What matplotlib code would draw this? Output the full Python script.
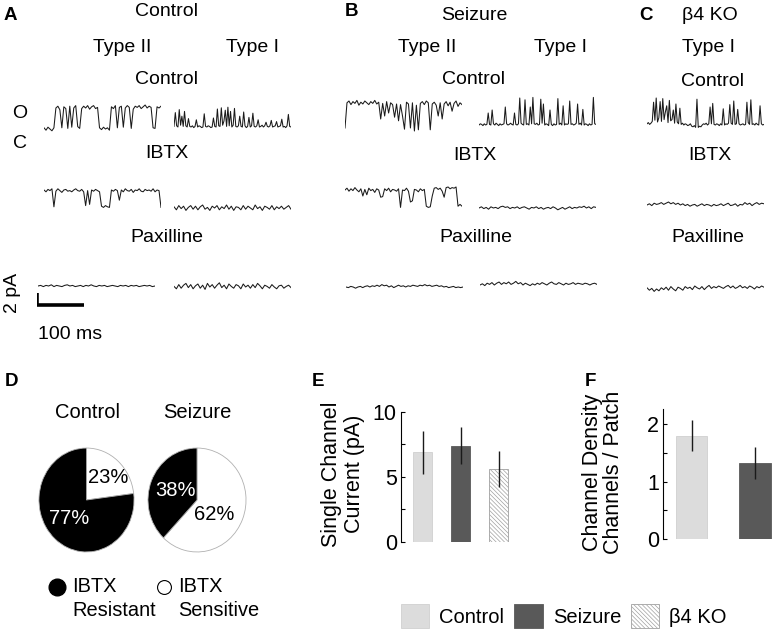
# single channel traces (A-C), IBTX sensitivity pies (D) and bar summaries (E, F)

import numpy as np
import matplotlib
matplotlib.use("Agg")
import matplotlib.pyplot as plt
from matplotlib.lines import Line2D
from matplotlib.patches import Patch
from matplotlib.legend_handler import HandlerLine2D

plt.rcParams['font.family'] = ['Liberation Sans', 'DejaVu Sans']
plt.rcParams['hatch.linewidth'] = 0.5

# ---- data ----
# current traces in pA (closed level = 0), each 250 ms long
trace_ms = 250
scale_ms = 100
scale_pa = 2

A_ctrl_II = [0.2, -0.2, 0.3, 0.0, -0.3, 0.2,
             3.5, 3.8, 3.2, 0.2, 3.7, 3.4, 0.1, 3.8, 0.3, 3.5, 3.9,
             0.4, 0.1,
             3.4, 3.8, 3.5, 3.9, 3.3, 3.7, 3.9, 3.4, 3.6,
             0.2, -0.1, 0.3, 0.0, 0.2, -0.2,
             3.7, 3.4, 3.9, 0.2, 3.6, 3.8, 0.3, 3.5, 3.9, 3.6, 0.1, 3.3, 3.8,
             3.6, 3.9, 3.4, 3.7, 4.0, 3.5, 3.8, 3.6,
             0.2, 0.1,
             3.7, 3.5, 3.8]
A_ctrl_I = [0.1, 2.4, 0.2, 0.0, 2.9, 0.3, 1.8, 0.1, 2.6, 0.2, 0.0, 1.4, 0.1,
            0.0, 0.2, -0.1, 0.1, 1.2, 0.0, 0.2, 0.1, -0.1, 0.0, 2.2, 0.1, 0.0,
            0.2, 0.1, -0.1, 0.0, 1.5, 0.1, 0.0,
            3.0, 0.2, 0.1, 3.2, 0.3, 1.0, 2.8, 0.1, 3.3, 0.2, 2.6, 0.0, 0.3, 3.1, 0.1,
            0.0, 0.2, 1.8, 0.1, 0.0, 2.5, 0.2, -0.1, 0.1, 1.6, 0.0, 0.2, 2.3, 0.1,
            0.0, 0.2, 1.2, 0.0, 0.1, 0.3, 0.0, 0.2,
            0.8, 0.1, 0.0, 0.2, 1.1, 0.0, 0.1, 0.2, 0.9, 0.0, 0.1, 0.2, 1.3, 0.0,
            0.1, -0.1, 0.2, 2.1, 0.1, 0.0]
A_ibtx_II = [3.0, 2.7, 3.1, 2.9, 3.2, 0.2, 2.8, 3.2, 2.9, 2.6, 3.0, 3.1, 2.8, 2.9,
             2.7, 3.0, 3.2, 2.9, 2.8, 3.1, 2.7, 0.4, 2.9, 0.6, 3.0, 2.8, 3.1, 2.9,
             2.7, 0.3, 0.1, 0.4, 0.2, 0.1, 3.0, 2.8, 3.1, 2.9, 1.3, 3.0, 2.7, 3.2,
             2.9, 2.8, 3.1, 2.6, 3.0, 2.9, 3.2, 2.8, 2.7, 3.1, 2.9, 3.0, 2.8, 3.2,
             2.7, 3.0, 2.9, 0.1]
A_ibtx_I = [0.2, -0.3, 0.4, -0.1, 0.3, -0.4, 0.1, 0.4, -0.2, 0.3, -0.3, 0.2, 0.5,
            -0.2, 0.1, -0.4, 0.3, 0.0, 0.4, -0.3, 0.2, -0.1, 0.5, -0.2, 0.3, -0.4,
            0.2, 0.1, -0.3, 0.4, -0.2, 0.3, 0.0, -0.3, 0.5, -0.1, 0.2, -0.4, 0.3,
            0.1, -0.2, 0.4, -0.3, 0.2, -0.1, 0.3, -0.2, 0.1, 0.4, -0.2]
A_pax_II = [0.0, 0.1, -0.1, 0.1, 0.0, 0.2, -0.1, 0.1, 0.0, -0.1, 0.1, 0.2, 0.0,
            0.1, -0.1, 0.0, 0.1, -0.1, 0.1, 0.0, 0.2, 0.0, -0.1, 0.1, 0.0, 0.1,
            -0.1, 0.0, 0.1, 0.0, -0.1, 0.1, 0.0, 0.1, -0.1, 0.1, 0.0, 0.1, -0.1,
            0.0, 0.1, 0.0, 0.1, -0.1, 0.0]
A_pax_I = [0.1, -0.3, 0.4, -0.2, 0.3, 0.6, -0.1, 0.4, -0.3, 0.2, 0.5, -0.2, 0.3,
           -0.4, 0.6, 0.0, 0.4, -0.2, 0.3, 0.7, -0.1, 0.3, -0.3, 0.5, 0.1, -0.2,
           0.4, 0.2, -0.3, 0.5, 0.0, 0.3, -0.2, 0.4, -0.1, 0.6, 0.2, -0.3, 0.3,
           0.1, -0.2, 0.4, 0.0, -0.3, 0.2, 0.3, -0.2, 0.1, 0.3, -0.1]

B_ctrl_II = [0.0, 4.2, 4.5, 3.9, 4.4, 4.1, 4.6, 3.8, 4.3, 4.0, 4.5, 4.2, 3.9, 4.4,
             4.1, 4.6, 4.0, 4.3, 1.5, 4.1, 2.0, 4.4, 2.5, 4.2, 3.9, 1.8, 4.0, 1.2,
             3.9, 2.0, -0.2, 4.3, 4.0, 0.0, 4.2, -0.5, 3.8, -0.3, 4.1, 4.4, 3.9,
             4.5, 4.2, -0.3, 4.0, 4.3, 3.8, 2.0, 4.2, 1.5, 4.0, 4.4, 3.7, 4.3, 2.8,
             4.1, 4.5, 3.6, 4.2, 3.9]
B_ctrl_I = [0.0, 0.2, 0.1, -0.1, 0.2, 0.0, 0.1, 2.0, 0.1, 0.0, 2.5, 0.2,
            0.0, 0.3, 0.1, -0.1, 0.2, 0.0, 0.1, 0.2, 3.0, 0.2, 0.0, 0.1, 0.3, 0.1,
            0.0, 2.0, 0.1, 0.0, 0.2, 4.5, 0.3, 0.1, 0.0, 4.2, 0.1, 0.2, 0.0, 3.0,
            0.2, 4.6, 0.2, 0.1, 0.3, 0.0, 0.1, 4.3, 0.3, 3.5, 0.0, 0.2, 0.1, -0.1,
            2.5, 0.1, -0.1, 0.2, 0.0, 0.1, 4.4, 0.1, 0.3, 0.0, 3.2, 0.0, 0.2, 0.1,
            0.2, 4.0, 0.1, 0.2, 0.0, 0.1, 0.3, 3.5, 0.1, 0.3, 0.0, 2.6, 0.0, 0.2,
            0.1, -0.1, 0.2, 0.0, 0.1, 4.6, 0.2, 0.1]
B_ibtx_II = [3.0, 3.3, 2.8, 3.2, 2.9, 3.4, 3.0, 2.7, 3.2, 2.0, 3.1, 2.2, 3.3, 2.9,
             3.1, 2.6, 3.2, 3.0, 1.8, 1.9, 3.2, 2.9, 3.3, 2.7, 3.1, 3.0, 2.8, 3.2,
             0.1, 3.0, 2.9, 3.3, 2.8, 1.0, 1.2, 3.1, 3.0, 2.7, 3.2, 2.9, 3.1, 0.3,
             0.1, 0.2, 2.0, 3.3, 3.4, 3.1, 3.3, 2.8, 1.8, 3.4, 3.5, 3.2, 3.4, 3.3,
             3.5, 0.3, 0.6, 0.3]
B_ibtx_I = [0.0, 0.2, -0.1, 0.1, -0.2, 0.2, 0.0, 0.1, -0.1, 0.2, 0.3, 0.1, 0.2,
            -0.1, 0.1, 0.0, 0.2, -0.1, 0.1, 0.2, 0.0, -0.2, 0.1, 0.0, 0.2, -0.1,
            0.1, -0.2, 0.0, 0.1, -0.1, 0.2, 0.0, -0.3, -0.1, 0.1, -0.2, 0.0, 0.2,
            -0.1, 0.1, 0.0, 0.2, 0.1, 0.3, 0.0, 0.2, -0.1, 0.2, 0.1]
B_pax_II = [0.0, -0.1, 0.1, 0.0, -0.2, 0.0, 0.1, -0.1, 0.1, 0.2, 0.0, 0.2, 0.1,
            0.3, 0.1, 0.4, 0.2, 0.3, 0.0, 0.2, -0.1, 0.1, 0.3, 0.1, 0.2, 0.0, 0.2,
            0.1, 0.3, 0.2, 0.1, 0.3, 0.2, 0.4, 0.2, 0.3, 0.1, 0.2, 0.3, 0.1, 0.2,
            0.0, 0.1, -0.1, 0.0, 0.1, -0.1, 0.0, -0.1, 0.0]
B_pax_I = [0.0, 0.2, -0.1, 0.3, 0.1, 0.4, 0.0, 0.3, 0.5, 0.1, 0.4, 0.2, 0.5, 0.1,
           0.3, 0.6, 0.2, 0.4, 0.0, 0.3, 0.1, -0.1, 0.2, 0.0, 0.3, 0.1, 0.4, 0.2,
           0.0, 0.3, 0.5, 0.2, 0.1, 0.4, 0.2, 0.0, 0.3, 0.1, 0.2, 0.4, 0.1, 0.3,
           0.2, 0.1, 0.3, 0.2, 0.0, 0.2, 0.3, 0.1]

C_ctrl = [0.2, 0.4, 0.1, 0.3, 0.6,
          3.8, 0.8, 4.5, 0.5, 1.2, 3.9, 0.6, 4.4, 0.9, 2.2, 3.2, 0.4, 4.1, 0.7,
          0.9, 2.5, 0.3, 3.5, 0.5, 0.2, 2.8,
          0.1, 0.3, 0.0, 0.2, 0.1, -0.1, 0.0, 0.2, -0.2, -0.3, -0.1, -0.4,
          4.3, -0.4, -0.2, -0.3, 0.0, 0.2, 0.1, 0.3, 0.0, 0.2,
          3.0, 0.2, 3.6, 0.1, 0.0, 0.2, 0.1, -0.1, 0.2, 0.0,
          2.7, 0.0, 0.2, 0.1, 0.3, 3.4, 0.3, 0.1, 4.0, 0.1, 0.2, 2.6,
          0.2, 0.0, 0.1, 0.2, 0.0, 0.1, 3.8, 0.4, 0.1, 4.2, 0.1, 0.2, 0.0,
          0.3, 0.1, 0.0, 3.2, 0.2, 0.0, 0.1]
C_ibtx = [0.0, 0.2, -0.1, 0.3, 0.1, 0.2, 0.4, 0.1, 0.3, 0.5, 0.2, 0.4, 0.1, 0.3,
          0.0, 0.2, -0.1, 0.1, -0.2, 0.0, 0.1, -0.2, 0.0, 0.2, -0.1, 0.1, 0.0, -0.2,
          0.1, -0.1, 0.0, 0.2, -0.1, 0.1, 0.3, -0.1, 0.0, 0.2, -0.2, 0.1, 0.0, 0.4,
          0.1, 0.3, -0.1, 0.2, 0.4, 0.1, 0.3, 0.2]
C_pax = [0.2, -0.2, 0.1, -0.4, 0.0, -0.3, 0.2, -0.1, 0.3, -0.2, 0.4, 0.0, -0.3,
         0.3, 0.1, -0.2, 0.4, 0.1, 0.3, -0.1, 0.5, 0.2, 0.0, 0.4, -0.1, 0.3, 0.6,
         0.1, 0.4, 0.2, 0.5, 0.3, 0.1, 0.4, 0.6, 0.2, 0.5, 0.1, 0.3, 0.6, 0.2, 0.4,
         0.1, 0.5, 0.3, 0.0, 0.4, 0.2, 0.5, 0.3]

# D: percentage of patches (sensitive, resistant)
pie_groups = ["Control", "Seizure"]
ibtx_sensitive = [23, 62]
ibtx_resistant = [77, 38]

# E, F
groups = ["Control", "Seizure", "\u03b24 KO"]
single_current = [6.88, 7.38, 5.6]
single_current_err = [1.65, 1.43, 1.38]
density_groups = ["Control", "Seizure"]
channel_density = [1.80, 1.32]
channel_density_err = [0.27, 0.28]

bar_colors = ["#dcdcdc", "#595959", "white"]
bar_hatch = [None, None, "\\" * 8]
bar_edge = ["#d0d0d0", "#595959", "#a0a0a0"]

# ---- layout helpers (pixels) ----
W, H = 773, 635
fig = plt.figure(figsize=(W / 100, H / 100), dpi=100)


def px_axes(left, top, width, height):
    return fig.add_axes([left / W, 1 - (top + height) / H, width / W, height / H])


def label(x, y, s, size=14, **kw):
    kw.setdefault("ha", "center")
    kw.setdefault("va", "center")
    fig.text(x / W, 1 - y / H, s, fontsize=size, **kw)


PX_PA = 6.0
PX_MS = 117 / trace_ms
YMIN, YMAX = -1.5, 6.0


def trace(vals, left, base):
    top = base - YMAX * PX_PA
    ax = px_axes(left, top, trace_ms * PX_MS, (YMAX - YMIN) * PX_PA)
    t = np.linspace(0, trace_ms, len(vals))
    ax.plot(t, vals, color="#1a1a1a", lw=0.75)
    ax.set_xlim(0, trace_ms)
    ax.set_ylim(YMIN, YMAX)
    ax.axis("off")
    return ax


# ---- traces ----
trace(A_ctrl_II, 44, 129)
trace(A_ctrl_I, 174, 127)
trace(A_ibtx_II, 44, 208)
trace(A_ibtx_I, 174, 208)
trace(A_pax_II, 38, 286)
trace(A_pax_I, 174, 287)
trace(B_ctrl_II, 345, 128)
trace(B_ctrl_I, 479, 125)
trace(B_ibtx_II, 345, 208)
trace(B_ibtx_I, 479, 208)
trace(B_pax_II, 346, 287)
trace(B_pax_I, 480, 285)
trace(C_ctrl, 647, 125)
trace(C_ibtx, 647, 205)
trace(C_pax, 647, 289)

# scale bar
sb = trace([], 37, 305)
sb.plot([0, 0, scale_ms], [scale_pa, 0, 0], color="black", lw=2.6,
        solid_joinstyle="miter", solid_capstyle="butt")
label(13, 293, "2 pA", rotation=90)
label(70, 335, "100 ms")

for s, x, y in [("A", 10, 15), ("B", 352, 12), ("C", 646, 16),
                ("D", 12, 381), ("E", 318, 381), ("F", 590, 381)]:
    label(x, y, s, size=13.5, weight="bold")

for s, x, y in [
    ("Control", 167, 12), ("Type II", 122, 47), ("Type I", 253, 47),
    ("Control", 167, 80), ("O", 20, 114), ("C", 20, 143),
    ("IBTX", 167, 154), ("Paxilline", 167, 238),
    ("Seizure", 474, 15), ("Type II", 427, 47), ("Type I", 560, 47),
    ("Control", 474, 80), ("IBTX", 475, 155), ("Paxilline", 476, 238),
    ("\u03b24 KO", 710, 15), ("Type I", 708, 47), ("Control", 713, 82),
    ("IBTX", 710, 155), ("Paxilline", 708, 238),
]:
    label(x, y, s, size=14)

# ---- D: pies ----
pie_boxes = [(38, 447, 97, 106), (147, 447, 100, 106)]
pie_titles_x = [87, 197]
pct_pos = [[(0.45, 0.44), (-0.36, -0.35)], [(0.36, -0.28), (-0.44, 0.19)]]
for i, g in enumerate(pie_groups):
    ax = px_axes(*pie_boxes[i])
    vals = [ibtx_sensitive[i], ibtx_resistant[i]]
    ax.pie(vals, colors=["white", "black"], startangle=90, counterclock=False,
           wedgeprops=dict(linewidth=0.6, edgecolor="#b0b0b0"))
    ax.set_aspect("auto")
    ax.set_xlim(-1.02, 1.02)
    ax.set_ylim(-1.02, 1.02)
    ax.axis("off")
    for (px, py), v, c in zip(pct_pos[i], vals, ["black", "white"]):
        ax.text(px, py, f"{v}%", color=c, fontsize=14.5, ha="center", va="center")
    label(pie_titles_x[i], 412, g, size=14.5)


class FirstLineMarker(HandlerLine2D):
    # put the legend marker beside the first line of a two-line label
    def __init__(self, lift, **kw):
        super().__init__(**kw)
        self.lift = lift

    def create_artists(self, legend, orig_handle, xdescent, ydescent, width,
                       height, fontsize, trans):
        return super().create_artists(legend, orig_handle, xdescent,
                                      ydescent - 2 * self.lift, width, height,
                                      fontsize, trans)


h_res = Line2D([], [], ls="none", marker="o", ms=12, mfc="black", mec="black")
h_sen = Line2D([], [], ls="none", marker="o", ms=10, mfc="white", mec="black", mew=0.8)
pie_leg = fig.legend(
    handles=[h_res, h_sen], labels=["IBTX\nResistant", "IBTX\nSensitive"],
    handler_map={h_res: FirstLineMarker(9.0), h_sen: FirstLineMarker(9.0)},
    ncol=2, frameon=False, fontsize=14.4, handlelength=0.8, handletextpad=0.35,
    columnspacing=0.0, borderpad=0, borderaxespad=0, loc="center left",
    bbox_to_anchor=(49 / W, 1 - 598.5 / H))
for t in pie_leg.get_texts():
    t.set_linespacing(1.35)


def style_axis(ax):
    for side in ["top", "right", "bottom"]:
        ax.spines[side].set_visible(False)
    ax.spines["left"].set_linewidth(0.8)
    ax.tick_params(axis="y", which="both", direction="in", length=3, width=0.8,
                   labelsize=15.5, pad=3)
    ax.set_xticks([])


# ---- E: single channel current ----
axE = px_axes(401, 411.7, 120, 130)
xE = np.arange(len(groups))
bars = axE.bar(xE, single_current, width=0.5, color=bar_colors, edgecolor=bar_edge,
               linewidth=0.6)
for b, h in zip(bars, bar_hatch):
    b.set_hatch(h)
axE.errorbar(xE, single_current, yerr=single_current_err, fmt="none",
             ecolor="#1a1a1a", elinewidth=1.0, capsize=0)
axE.set_xlim(-0.566, 2.59)
axE.set_ylim(0, 10)
axE.set_yticks([0, 5, 10])
axE.set_yticks([2.5, 7.5], minor=True)
style_axis(axE)
label(343, 474, "Single Channel\nCurrent (pA)", size=15.5, rotation=90,
      linespacing=1.1)

# ---- F: channel density ----
axF = px_axes(663.3, 409, 109.7, 130.3)
xF = np.arange(len(density_groups))
axF.bar(xF, channel_density, width=0.5, color=bar_colors[:2],
        edgecolor=bar_edge[:2], linewidth=0.6)
axF.errorbar(xF, channel_density, yerr=channel_density_err, fmt="none",
             ecolor="#1a1a1a", elinewidth=1.0, capsize=0)
axF.set_xlim(-0.444, 1.283)
axF.set_ylim(0, 2.26)
axF.set_yticks([0, 1, 2])
axF.set_yticks([0.5, 1.5], minor=True)
style_axis(axF)
label(603, 472, "Channel Density\nChannels / Patch", size=15.5, rotation=90,
      linespacing=1.0)

# ---- bar legend ----
fig.legend(
    handles=[Patch(facecolor=c, edgecolor=e, hatch=h, linewidth=0.6)
             for c, e, h in zip(bar_colors, bar_edge, bar_hatch)],
    labels=groups, ncol=3, frameon=False, fontsize=14.5, loc="center",
    bbox_to_anchor=(564 / W, 1 - 616 / H), handlelength=1.4, handleheight=1.4,
    handletextpad=0.5, columnspacing=0.5, borderpad=0)

fig.savefig("out.png", dpi=100)
